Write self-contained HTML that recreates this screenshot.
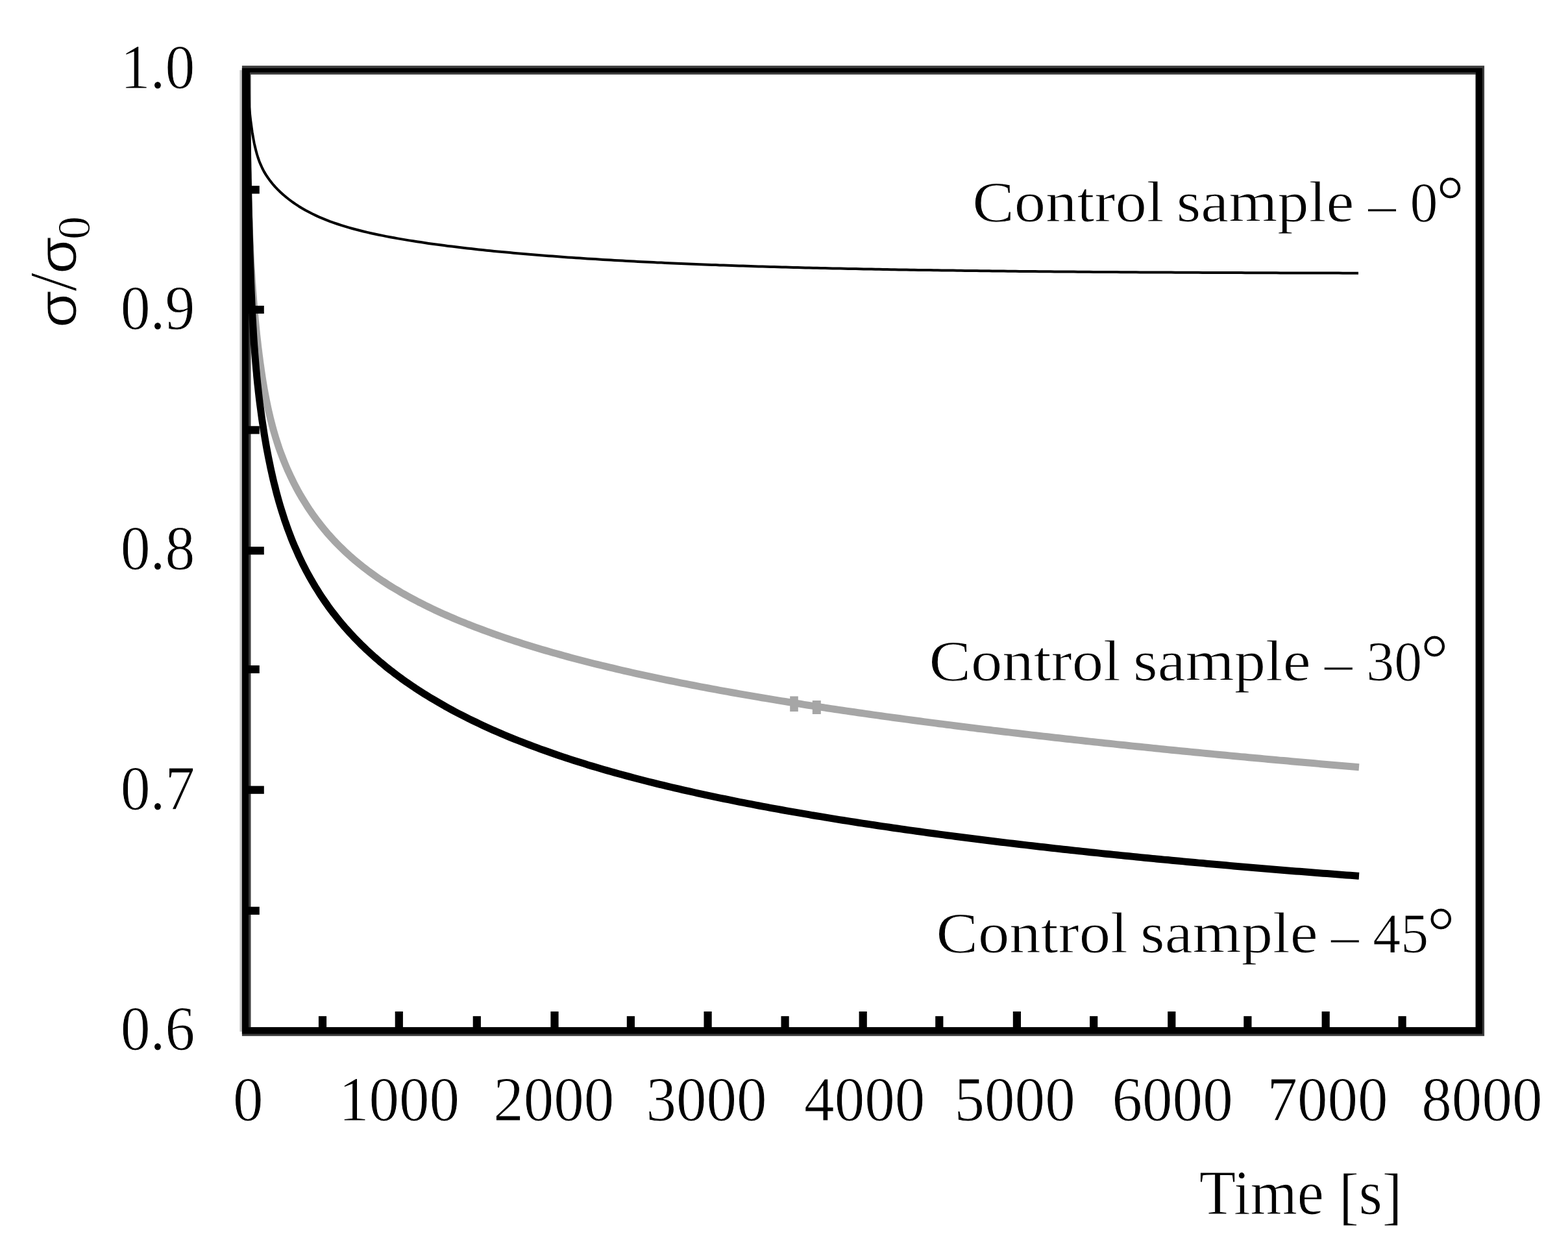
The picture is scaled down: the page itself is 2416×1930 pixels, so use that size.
<!DOCTYPE html>
<html lang="en"><head><meta charset="utf-8"><title>Stress relaxation of control samples</title>
<style>
html,body{margin:0;padding:0;background:#fff;}
body{width:2416px;height:1930px;overflow:hidden;}
svg{display:block;}
text{font-family:"Liberation Serif","DejaVu Serif",serif;fill:#000;white-space:pre;stroke:#fff;stroke-width:1px;}
.tk{font-size:97px;}
.sg{font-family:"Liberation Sans","DejaVu Sans",sans-serif;font-size:83px;}
</style></head><body>
<svg width="2416" height="1930" viewBox="0 0 2416 1930" role="img" aria-label="Stress relaxation curves of control samples">
<rect width="2416" height="1930" fill="#fff"/>
<rect x="369.4" y="108" width="8" height="1481" fill="#c4c4c4"/>
<rect x="379.7" y="108.0" width="1900.6" height="1481.0" fill="none" stroke="#3c3c3c" stroke-width="13.6"/>
<g fill="none" stroke-linejoin="round" stroke-linecap="butt">
<path d="M379.7 108.0 L379.8 123.8 L380.0 138.7 L380.1 152.7 L380.3 165.9 L380.4 178.3 L380.6 190.1 L380.7 201.2 L380.9 211.7 L381.0 221.6 L381.2 231.1 L381.3 240.0 L381.5 248.5 L381.6 256.6 L381.8 264.3 L381.9 271.6 L382.1 278.5 L382.2 285.2 L382.4 291.6 L382.6 297.9 L382.7 304.1 L382.9 310.4 L383.1 316.7 L383.2 322.9 L383.4 329.1 L383.6 335.3 L383.9 341.5 L384.1 347.7 L384.3 353.8 L384.6 360.0 L384.8 366.1 L385.1 372.2 L385.4 378.3 L385.7 384.4 L386.0 390.5 L386.3 396.6 L386.6 402.6 L387.0 408.7 L387.3 414.7 L387.7 420.7 L388.1 426.7 L388.5 432.7 L388.9 438.8 L389.3 444.8 L389.8 450.7 L390.3 456.7 L390.7 462.7 L391.2 468.7 L391.7 474.7 L392.2 480.7 L392.8 486.6 L393.3 492.6 L393.9 498.6 L394.5 504.5 L395.1 510.5 L395.7 516.4 L396.4 522.4 L397.1 528.3 L397.7 534.2 L398.5 540.2 L399.2 546.1 L400.0 552.0 L400.7 557.9 L401.6 563.8 L402.4 569.7 L403.3 575.6 L404.2 581.5 L405.1 587.3 L406.1 593.2 L407.1 599.1 L408.2 604.9 L409.3 610.7 L410.4 616.6 L411.6 622.4 L412.8 628.2 L414.1 634.0 L415.5 639.7 L416.8 645.5 L418.3 651.2 L419.8 657.0 L421.4 662.7 L423.0 668.3 L424.7 674.0 L426.5 679.7 L428.3 685.3 L430.2 690.9 L432.2 696.5 L434.3 702.0 L436.4 707.5 L438.6 713.0 L440.9 718.5 L443.2 723.9 L445.7 729.3 L448.2 734.7 L450.8 740.0 L453.4 745.3 L456.2 750.6 L459.0 755.8 L461.9 761.0 L464.9 766.1 L468.0 771.2 L471.1 776.2 L474.3 781.2 L477.6 786.2 L481.0 791.1 L484.4 795.9 L488.0 800.7 L491.6 805.4 L495.2 810.1 L499.0 814.7 L502.8 819.3 L506.7 823.8 L510.7 828.2 L514.7 832.6 L518.8 836.9 L523.0 841.1 L527.3 845.3 L531.6 849.4 L536.0 853.5 L540.4 857.5 L544.9 861.4 L549.5 865.2 L554.1 869.0 L558.7 872.7 L563.5 876.4 L568.2 880.0 L573.0 883.5 L577.9 887.0 L582.8 890.4 L587.8 893.8 L592.8 897.0 L597.8 900.3 L602.8 903.5 L608.0 906.6 L613.1 909.6 L618.3 912.7 L623.5 915.6 L628.7 918.5 L633.9 921.4 L639.2 924.2 L644.5 927.0 L649.9 929.7 L655.2 932.4 L660.6 935.0 L666.0 937.6 L671.4 940.2 L676.9 942.7 L682.3 945.2 L687.8 947.6 L693.3 950.0 L698.8 952.4 L704.3 954.7 L709.8 957.0 L715.4 959.2 L721.0 961.5 L726.5 963.6 L732.1 965.8 L737.7 967.9 L743.3 970.0 L749.0 972.1 L754.6 974.2 L760.3 976.2 L765.9 978.2 L771.6 980.1 L777.2 982.1 L782.9 984.0 L788.6 985.9 L794.3 987.8 L800.0 989.6 L805.7 991.4 L811.5 993.2 L817.2 995.0 L822.9 996.7 L828.7 998.5 L834.4 1000.2 L840.2 1001.9 L845.9 1003.5 L851.7 1005.2 L857.5 1006.8 L863.2 1008.4 L869.0 1010.0 L874.8 1011.6 L880.6 1013.2 L886.4 1014.7 L892.2 1016.2 L898.0 1017.7 L903.8 1019.2 L909.6 1020.7 L915.4 1022.2 L921.3 1023.6 L927.1 1025.0 L932.9 1026.4 L938.8 1027.8 L944.6 1029.2 L950.4 1030.6 L956.3 1032.0 L962.1 1033.3 L968.0 1034.6 L973.8 1036.0 L979.7 1037.3 L985.5 1038.6 L991.4 1039.9 L997.3 1041.1 L1003.1 1042.4 L1009.0 1043.6 L1014.9 1044.9 L1020.7 1046.1 L1026.6 1047.3 L1032.5 1048.5 L1038.4 1049.7 L1044.2 1050.9 L1050.1 1052.1 L1056.0 1053.2 L1061.9 1054.4 L1067.8 1055.5 L1073.7 1056.7 L1079.6 1057.8 L1085.5 1058.9 L1091.4 1060.0 L1097.3 1061.1 L1103.2 1062.2 L1109.1 1063.3 L1115.0 1064.4 L1120.9 1065.4 L1126.8 1066.5 L1132.7 1067.5 L1138.6 1068.6 L1144.5 1069.6 L1150.4 1070.7 L1156.3 1071.7 L1162.2 1072.7 L1168.1 1073.7 L1174.1 1074.7 L1180.0 1075.7 L1185.9 1076.7 L1191.8 1077.6 L1197.7 1078.6 L1203.6 1079.6 L1209.6 1080.5 L1215.5 1081.5 L1221.4 1082.4 L1227.3 1083.4 L1233.3 1084.3 L1239.2 1085.3 L1245.1 1086.2 L1251.1 1087.1 L1257.0 1088.0 L1262.9 1088.9 L1268.8 1089.8 L1274.8 1090.7 L1280.7 1091.6 L1286.6 1092.5 L1292.6 1093.4 L1298.5 1094.2 L1304.5 1095.1 L1310.4 1096.0 L1316.3 1096.8 L1322.3 1097.7 L1328.2 1098.5 L1334.1 1099.4 L1340.1 1100.2 L1346.0 1101.1 L1352.0 1101.9 L1357.9 1102.7 L1363.9 1103.6 L1369.8 1104.4 L1375.7 1105.2 L1381.7 1106.0 L1387.6 1106.8 L1393.6 1107.6 L1399.5 1108.4 L1405.5 1109.2 L1411.4 1110.0 L1417.4 1110.8 L1423.3 1111.6 L1429.3 1112.4 L1435.2 1113.1 L1441.2 1113.9 L1447.1 1114.7 L1453.1 1115.4 L1459.0 1116.2 L1465.0 1116.9 L1470.9 1117.7 L1476.9 1118.5 L1482.8 1119.2 L1488.8 1119.9 L1494.7 1120.7 L1500.7 1121.4 L1506.6 1122.2 L1512.6 1122.9 L1518.5 1123.6 L1524.5 1124.3 L1530.5 1125.1 L1536.4 1125.8 L1542.4 1126.5 L1548.3 1127.2 L1554.3 1127.9 L1560.2 1128.6 L1566.2 1129.3 L1572.2 1130.0 L1578.1 1130.7 L1584.1 1131.4 L1590.0 1132.1 L1596.0 1132.8 L1602.0 1133.5 L1607.9 1134.1 L1613.9 1134.8 L1619.9 1135.5 L1625.8 1136.2 L1631.8 1136.8 L1637.7 1137.5 L1643.7 1138.2 L1649.7 1138.8 L1655.6 1139.5 L1661.6 1140.1 L1667.6 1140.8 L1673.5 1141.5 L1679.5 1142.1 L1685.4 1142.7 L1691.4 1143.4 L1697.4 1144.0 L1703.3 1144.7 L1709.3 1145.3 L1715.3 1145.9 L1721.2 1146.6 L1727.2 1147.2 L1733.2 1147.8 L1739.1 1148.5 L1745.1 1149.1 L1751.1 1149.7 L1757.0 1150.3 L1763.0 1150.9 L1769.0 1151.5 L1775.0 1152.1 L1780.9 1152.8 L1786.9 1153.4 L1792.9 1154.0 L1798.8 1154.6 L1804.8 1155.2 L1810.8 1155.8 L1816.7 1156.4 L1822.7 1156.9 L1828.7 1157.5 L1834.7 1158.1 L1840.6 1158.7 L1846.6 1159.3 L1852.6 1159.9 L1858.5 1160.5 L1864.5 1161.0 L1870.5 1161.6 L1876.5 1162.2 L1882.4 1162.7 L1888.4 1163.3 L1894.4 1163.9 L1900.4 1164.4 L1906.3 1165.0 L1912.3 1165.6 L1918.3 1166.1 L1924.2 1166.7 L1930.2 1167.2 L1936.2 1167.8 L1942.2 1168.3 L1948.1 1168.9 L1954.1 1169.4 L1960.1 1170.0 L1966.1 1170.5 L1972.0 1171.1 L1978.0 1171.6 L1984.0 1172.1 L1990.0 1172.7 L1995.9 1173.2 L2001.9 1173.7 L2007.9 1174.3 L2013.9 1174.8 L2019.9 1175.3 L2025.8 1175.8 L2031.8 1176.4 L2037.8 1176.9 L2043.8 1177.4 L2049.7 1177.9 L2055.7 1178.4 L2061.7 1178.9 L2067.7 1179.5 L2073.7 1180.0 L2079.6 1180.5 L2085.6 1181.0 L2091.6 1181.5 L2094.0 1181.7" stroke="#a6a6a6" stroke-width="11"/>
<path d="M379.7 108.0 L379.8 120.2 L380.0 132.0 L380.1 143.5 L380.3 154.6 L380.4 165.5 L380.6 176.1 L380.7 186.3 L380.9 196.3 L381.0 206.0 L381.2 215.4 L381.3 224.6 L381.5 233.6 L381.6 242.2 L381.8 250.7 L381.9 259.0 L382.1 267.0 L382.2 274.8 L382.4 282.4 L382.5 289.8 L382.7 297.0 L382.8 304.1 L383.0 310.9 L383.1 317.6 L383.3 324.1 L383.4 330.5 L383.6 336.7 L383.8 342.8 L383.9 349.0 L384.1 355.2 L384.2 361.3 L384.4 367.5 L384.6 373.6 L384.8 379.8 L384.9 385.9 L385.1 392.1 L385.3 398.2 L385.5 404.3 L385.7 410.4 L386.0 416.6 L386.2 422.7 L386.4 428.8 L386.6 434.9 L386.9 441.0 L387.1 447.1 L387.4 453.2 L387.7 459.3 L387.9 465.4 L388.2 471.4 L388.5 477.5 L388.8 483.6 L389.1 489.6 L389.5 495.7 L389.8 501.7 L390.2 507.7 L390.5 513.8 L390.9 519.8 L391.3 525.8 L391.7 531.8 L392.2 537.8 L392.6 543.8 L393.1 549.8 L393.6 555.8 L394.1 561.8 L394.6 567.7 L395.2 573.7 L395.7 579.7 L396.3 585.6 L396.9 591.6 L397.6 597.5 L398.2 603.4 L398.9 609.4 L399.6 615.3 L400.3 621.2 L401.1 627.1 L401.9 633.1 L402.7 639.0 L403.5 644.9 L404.4 650.8 L405.3 656.7 L406.2 662.5 L407.1 668.4 L408.1 674.3 L409.1 680.2 L410.1 686.0 L411.2 691.9 L412.3 697.7 L413.4 703.6 L414.6 709.4 L415.8 715.2 L417.0 721.1 L418.3 726.9 L419.6 732.7 L420.9 738.5 L422.3 744.2 L423.8 750.0 L425.2 755.8 L426.7 761.5 L428.3 767.2 L429.9 773.0 L431.6 778.7 L433.3 784.3 L435.1 790.0 L436.9 795.7 L438.7 801.3 L440.7 806.9 L442.6 812.5 L444.7 818.1 L446.8 823.6 L448.9 829.2 L451.1 834.7 L453.4 840.2 L455.8 845.6 L458.2 851.0 L460.6 856.4 L463.1 861.8 L465.7 867.2 L468.4 872.5 L471.1 877.8 L473.9 883.0 L476.8 888.2 L479.7 893.4 L482.7 898.5 L485.7 903.6 L488.9 908.7 L492.0 913.7 L495.3 918.7 L498.6 923.6 L502.0 928.5 L505.4 933.4 L508.9 938.2 L512.5 943.0 L516.2 947.7 L519.9 952.4 L523.6 957.0 L527.4 961.5 L531.3 966.1 L535.3 970.5 L539.3 975.0 L543.3 979.3 L547.4 983.7 L551.6 987.9 L555.8 992.2 L560.1 996.3 L564.4 1000.5 L568.8 1004.5 L573.2 1008.5 L577.6 1012.5 L582.2 1016.4 L586.7 1020.3 L591.3 1024.1 L595.9 1027.9 L600.6 1031.6 L605.4 1035.2 L610.1 1038.9 L614.9 1042.4 L619.7 1046.0 L624.6 1049.4 L629.5 1052.8 L634.5 1056.2 L639.4 1059.6 L644.4 1062.8 L649.5 1066.1 L654.5 1069.3 L659.6 1072.4 L664.7 1075.6 L669.9 1078.6 L675.0 1081.6 L680.2 1084.6 L685.4 1087.6 L690.7 1090.5 L695.9 1093.3 L701.2 1096.2 L706.5 1099.0 L711.8 1101.7 L717.2 1104.4 L722.5 1107.1 L727.9 1109.7 L733.3 1112.3 L738.7 1114.9 L744.1 1117.4 L749.6 1119.9 L755.1 1122.4 L760.5 1124.9 L766.0 1127.3 L771.5 1129.6 L777.0 1132.0 L782.6 1134.3 L788.1 1136.6 L793.7 1138.8 L799.2 1141.0 L804.8 1143.2 L810.4 1145.4 L816.0 1147.5 L821.6 1149.6 L827.2 1151.7 L832.9 1153.8 L838.5 1155.8 L844.2 1157.8 L849.8 1159.8 L855.5 1161.8 L861.2 1163.7 L866.8 1165.6 L872.5 1167.5 L878.2 1169.4 L883.9 1171.2 L889.6 1173.0 L895.4 1174.8 L901.1 1176.6 L906.8 1178.4 L912.6 1180.1 L918.3 1181.8 L924.1 1183.5 L929.8 1185.2 L935.6 1186.9 L941.4 1188.5 L947.1 1190.1 L952.9 1191.7 L958.7 1193.3 L964.5 1194.9 L970.3 1196.4 L976.1 1198.0 L981.9 1199.5 L987.7 1201.0 L993.5 1202.5 L999.3 1204.0 L1005.1 1205.4 L1010.9 1206.9 L1016.8 1208.3 L1022.6 1209.7 L1028.4 1211.1 L1034.3 1212.5 L1040.1 1213.9 L1046.0 1215.2 L1051.8 1216.6 L1057.6 1217.9 L1063.5 1219.2 L1069.4 1220.5 L1075.2 1221.8 L1081.1 1223.1 L1086.9 1224.4 L1092.8 1225.6 L1098.7 1226.9 L1104.5 1228.1 L1110.4 1229.3 L1116.3 1230.5 L1122.2 1231.7 L1128.0 1232.9 L1133.9 1234.1 L1139.8 1235.3 L1145.7 1236.4 L1151.6 1237.6 L1157.5 1238.7 L1163.4 1239.9 L1169.3 1241.0 L1175.2 1242.1 L1181.1 1243.2 L1187.0 1244.3 L1192.9 1245.4 L1198.8 1246.4 L1204.7 1247.5 L1210.6 1248.6 L1216.5 1249.6 L1222.4 1250.7 L1228.3 1251.7 L1234.2 1252.7 L1240.1 1253.7 L1246.0 1254.7 L1251.9 1255.8 L1257.9 1256.7 L1263.8 1257.7 L1269.7 1258.7 L1275.6 1259.7 L1281.5 1260.6 L1287.5 1261.6 L1293.4 1262.6 L1299.3 1263.5 L1305.2 1264.4 L1311.2 1265.4 L1317.1 1266.3 L1323.0 1267.2 L1328.9 1268.1 L1334.9 1269.0 L1340.8 1269.9 L1346.7 1270.8 L1352.7 1271.7 L1358.6 1272.6 L1364.5 1273.4 L1370.5 1274.3 L1376.4 1275.2 L1382.4 1276.0 L1388.3 1276.9 L1394.2 1277.7 L1400.2 1278.6 L1406.1 1279.4 L1412.1 1280.2 L1418.0 1281.0 L1423.9 1281.9 L1429.9 1282.7 L1435.8 1283.5 L1441.8 1284.3 L1447.7 1285.1 L1453.7 1285.9 L1459.6 1286.7 L1465.6 1287.4 L1471.5 1288.2 L1477.5 1289.0 L1483.4 1289.8 L1489.4 1290.5 L1495.3 1291.3 L1501.3 1292.0 L1507.2 1292.8 L1513.2 1293.5 L1519.1 1294.3 L1525.1 1295.0 L1531.1 1295.7 L1537.0 1296.5 L1543.0 1297.2 L1548.9 1297.9 L1554.9 1298.6 L1560.8 1299.3 L1566.8 1300.0 L1572.8 1300.7 L1578.7 1301.4 L1584.7 1302.1 L1590.6 1302.8 L1596.6 1303.5 L1602.6 1304.2 L1608.5 1304.8 L1614.5 1305.5 L1620.4 1306.2 L1626.4 1306.9 L1632.4 1307.5 L1638.3 1308.2 L1644.3 1308.8 L1650.3 1309.5 L1656.2 1310.1 L1662.2 1310.8 L1668.2 1311.4 L1674.1 1312.0 L1680.1 1312.7 L1686.0 1313.3 L1692.0 1313.9 L1698.0 1314.6 L1704.0 1315.2 L1709.9 1315.8 L1715.9 1316.4 L1721.9 1317.0 L1727.8 1317.6 L1733.8 1318.2 L1739.8 1318.8 L1745.7 1319.4 L1751.7 1320.0 L1757.7 1320.6 L1763.6 1321.2 L1769.6 1321.8 L1775.6 1322.4 L1781.6 1322.9 L1787.5 1323.5 L1793.5 1324.1 L1799.5 1324.6 L1805.5 1325.2 L1811.4 1325.8 L1817.4 1326.3 L1823.4 1326.9 L1829.3 1327.4 L1835.3 1328.0 L1841.3 1328.5 L1847.3 1329.1 L1853.2 1329.6 L1859.2 1330.2 L1865.2 1330.7 L1871.2 1331.2 L1877.2 1331.8 L1883.1 1332.3 L1889.1 1332.8 L1895.1 1333.4 L1901.1 1333.9 L1907.0 1334.4 L1913.0 1334.9 L1919.0 1335.4 L1925.0 1335.9 L1930.9 1336.4 L1936.9 1336.9 L1942.9 1337.4 L1948.9 1337.9 L1954.9 1338.4 L1960.8 1338.9 L1966.8 1339.4 L1972.8 1339.9 L1978.8 1340.4 L1984.8 1340.9 L1990.7 1341.4 L1996.7 1341.9 L2002.7 1342.3 L2008.7 1342.8 L2014.7 1343.3 L2020.7 1343.8 L2026.6 1344.2 L2032.6 1344.7 L2038.6 1345.2 L2044.6 1345.6 L2050.6 1346.1 L2056.5 1346.5 L2062.5 1347.0 L2068.5 1347.4 L2074.5 1347.9 L2080.5 1348.3 L2086.5 1348.8 L2092.4 1349.2 L2094.0 1349.3" stroke="#000" stroke-width="11"/>
<path d="M379.7 108.0 L380.1 114.0 L380.4 120.1 L380.8 126.1 L381.3 132.1 L381.7 138.1 L382.2 144.1 L382.6 150.1 L383.2 156.1 L383.7 162.0 L384.3 168.0 L384.9 173.9 L385.5 179.8 L386.2 185.7 L387.0 191.6 L387.8 197.5 L388.6 203.3 L389.6 209.1 L390.6 214.9 L391.7 220.6 L393.0 226.3 L394.4 231.9 L395.9 237.5 L397.6 243.0 L399.5 248.4 L401.7 253.7 L404.1 259.0 L406.7 264.1 L409.7 269.1 L412.9 273.9 L416.3 278.6 L420.0 283.2 L423.8 287.6 L427.9 291.9 L432.1 296.0 L436.5 300.0 L441.0 303.8 L445.7 307.5 L450.4 311.0 L455.3 314.4 L460.3 317.7 L465.3 320.8 L470.5 323.8 L475.8 326.6 L481.1 329.3 L486.5 331.9 L491.9 334.4 L497.4 336.7 L502.9 338.9 L508.5 341.1 L514.2 343.1 L519.8 345.0 L525.5 346.9 L531.2 348.7 L537.0 350.4 L542.7 352.0 L548.5 353.5 L554.3 355.0 L560.1 356.5 L566.0 357.9 L571.8 359.2 L577.7 360.5 L583.5 361.7 L589.4 362.9 L595.3 364.1 L601.2 365.2 L607.1 366.3 L613.0 367.4 L618.9 368.4 L624.8 369.4 L630.7 370.4 L636.7 371.3 L642.6 372.2 L648.5 373.1 L654.5 374.0 L660.4 374.9 L666.3 375.7 L672.3 376.5 L678.2 377.3 L684.2 378.1 L690.1 378.9 L696.1 379.6 L702.0 380.3 L708.0 381.0 L713.9 381.7 L719.9 382.4 L725.9 383.1 L731.8 383.8 L737.8 384.4 L743.8 385.0 L749.7 385.7 L755.7 386.3 L761.7 386.9 L767.6 387.4 L773.6 388.0 L779.6 388.6 L785.5 389.1 L791.5 389.7 L797.5 390.2 L803.5 390.7 L809.5 391.3 L815.4 391.8 L821.4 392.3 L827.4 392.8 L833.4 393.2 L839.3 393.7 L845.3 394.2 L851.3 394.6 L857.3 395.1 L863.3 395.5 L869.3 395.9 L875.2 396.4 L881.2 396.8 L887.2 397.2 L893.2 397.6 L899.2 398.0 L905.2 398.4 L911.2 398.8 L917.2 399.1 L923.1 399.5 L929.1 399.9 L935.1 400.2 L941.1 400.6 L947.1 400.9 L953.1 401.3 L959.1 401.6 L965.1 401.9 L971.1 402.2 L977.1 402.6 L983.0 402.9 L989.0 403.2 L995.0 403.5 L1001.0 403.8 L1007.0 404.1 L1013.0 404.4 L1019.0 404.6 L1025.0 404.9 L1031.0 405.2 L1037.0 405.5 L1043.0 405.7 L1049.0 406.0 L1055.0 406.2 L1061.0 406.5 L1067.0 406.7 L1073.0 407.0 L1078.9 407.2 L1084.9 407.5 L1090.9 407.7 L1096.9 407.9 L1102.9 408.1 L1108.9 408.4 L1114.9 408.6 L1120.9 408.8 L1126.9 409.0 L1132.9 409.2 L1138.9 409.4 L1144.9 409.6 L1150.9 409.8 L1156.9 410.0 L1162.9 410.2 L1168.9 410.4 L1174.9 410.5 L1180.9 410.7 L1186.9 410.9 L1192.9 411.1 L1198.9 411.2 L1204.9 411.4 L1210.9 411.6 L1216.9 411.7 L1222.9 411.9 L1228.9 412.1 L1234.9 412.2 L1240.9 412.4 L1246.9 412.5 L1252.9 412.7 L1258.9 412.8 L1264.9 413.0 L1270.9 413.1 L1276.9 413.2 L1282.9 413.4 L1288.8 413.5 L1294.8 413.6 L1300.8 413.8 L1306.8 413.9 L1312.8 414.0 L1318.8 414.1 L1324.8 414.3 L1330.8 414.4 L1336.8 414.5 L1342.8 414.6 L1348.8 414.7 L1354.8 414.8 L1360.8 414.9 L1366.8 415.1 L1372.8 415.2 L1378.8 415.3 L1384.8 415.4 L1390.8 415.5 L1396.8 415.6 L1402.8 415.7 L1408.8 415.8 L1414.8 415.9 L1420.8 416.0 L1426.8 416.0 L1432.8 416.1 L1438.8 416.2 L1444.8 416.3 L1450.8 416.4 L1456.8 416.5 L1462.8 416.6 L1468.8 416.6 L1474.8 416.7 L1480.8 416.8 L1486.8 416.9 L1492.8 417.0 L1498.8 417.0 L1504.8 417.1 L1510.8 417.2 L1516.8 417.3 L1522.8 417.3 L1528.8 417.4 L1534.8 417.5 L1540.8 417.5 L1546.8 417.6 L1552.8 417.7 L1558.8 417.7 L1564.8 417.8 L1570.8 417.9 L1576.8 417.9 L1582.8 418.0 L1588.8 418.0 L1594.8 418.1 L1600.8 418.2 L1606.8 418.2 L1612.8 418.3 L1618.8 418.3 L1624.8 418.4 L1630.8 418.4 L1636.8 418.5 L1642.8 418.5 L1648.8 418.6 L1654.8 418.6 L1660.8 418.7 L1666.8 418.7 L1672.8 418.8 L1678.8 418.8 L1684.8 418.9 L1690.8 418.9 L1696.8 419.0 L1702.8 419.0 L1708.8 419.0 L1714.8 419.1 L1720.8 419.1 L1726.8 419.2 L1732.8 419.2 L1738.8 419.2 L1744.8 419.3 L1750.8 419.3 L1756.8 419.4 L1762.8 419.4 L1768.8 419.4 L1774.8 419.5 L1780.8 419.5 L1786.8 419.5 L1792.8 419.6 L1798.8 419.6 L1804.8 419.6 L1810.8 419.7 L1816.8 419.7 L1822.8 419.7 L1828.8 419.8 L1834.8 419.8 L1840.8 419.8 L1846.8 419.8 L1852.8 419.9 L1858.8 419.9 L1864.8 419.9 L1870.8 420.0 L1876.8 420.0 L1882.8 420.0 L1888.8 420.0 L1894.8 420.1 L1900.8 420.1 L1906.8 420.1 L1912.8 420.1 L1918.8 420.2 L1924.8 420.2 L1930.8 420.2 L1936.8 420.2 L1942.8 420.3 L1948.8 420.3 L1954.8 420.3 L1960.8 420.3 L1966.8 420.3 L1972.8 420.4 L1978.8 420.4 L1984.8 420.4 L1990.8 420.4 L1996.8 420.5 L2002.8 420.5 L2008.8 420.5 L2014.8 420.5 L2020.8 420.5 L2026.8 420.5 L2032.8 420.6 L2038.8 420.6 L2044.8 420.6 L2050.8 420.6 L2056.8 420.6 L2062.8 420.6 L2068.8 420.7 L2074.8 420.7 L2080.8 420.7 L2086.8 420.7 L2092.8 420.7 L2093.0 420.7" stroke="#000" stroke-width="4"/>
</g>
<rect x="1217.2" y="1072.5" width="12.6" height="23.5" fill="#a6a6a6"/>
<rect x="1251.8" y="1079" width="13" height="21" fill="#a6a6a6"/>
<g stroke="#000" stroke-width="12.2">
<line x1="497.0" y1="1565.2" x2="497.0" y2="1589.0"/>
<line x1="614.8" y1="1558.0" x2="614.8" y2="1589.0"/>
<line x1="734.8" y1="1565.2" x2="734.8" y2="1589.0"/>
<line x1="854.5" y1="1558.0" x2="854.5" y2="1589.0"/>
<line x1="971.9" y1="1565.2" x2="971.9" y2="1589.0"/>
<line x1="1090.6" y1="1558.0" x2="1090.6" y2="1589.0"/>
<line x1="1209.6" y1="1565.2" x2="1209.6" y2="1589.0"/>
<line x1="1329.7" y1="1558.0" x2="1329.7" y2="1589.0"/>
<line x1="1447.3" y1="1565.2" x2="1447.3" y2="1589.0"/>
<line x1="1566.9" y1="1558.0" x2="1566.9" y2="1589.0"/>
<line x1="1685.2" y1="1565.2" x2="1685.2" y2="1589.0"/>
<line x1="1805.3" y1="1558.0" x2="1805.3" y2="1589.0"/>
<line x1="1922.4" y1="1565.2" x2="1922.4" y2="1589.0"/>
<line x1="2042.7" y1="1558.0" x2="2042.7" y2="1589.0"/>
<line x1="2160.6" y1="1565.2" x2="2160.6" y2="1589.0"/>
<line x1="379.7" y1="292.3" x2="399.8" y2="292.3"/>
<line x1="379.7" y1="477.0" x2="406.8" y2="477.0"/>
<line x1="379.7" y1="662.4" x2="399.8" y2="662.4"/>
<line x1="379.7" y1="848.2" x2="406.8" y2="848.2"/>
<line x1="379.7" y1="1031.0" x2="399.8" y2="1031.0"/>
<line x1="379.7" y1="1216.7" x2="406.8" y2="1216.7"/>
<line x1="379.7" y1="1402.8" x2="399.8" y2="1402.8"/>
</g>
<path d="M373 108.2H2284" fill="none" stroke="#000" stroke-width="6.4"/>
<path d="M378 105V1592.4M2279 105V1592.4M373 1587.3H2284" fill="none" stroke="#000" stroke-width="10.2"/>
<text class="tk" transform="translate(185.7,136.3) scale(0.945,1)">1.0</text>
<text class="tk" transform="translate(185.7,506.5) scale(0.945,1)">0.9</text>
<text class="tk" transform="translate(185.7,876.6) scale(0.945,1)">0.8</text>
<text class="tk" transform="translate(185.7,1246.6) scale(0.945,1)">0.7</text>
<text class="tk" transform="translate(185.7,1617.3) scale(0.945,1)">0.6</text>
<text class="tk" text-anchor="middle" transform="translate(382.4,1725.8) scale(0.960,1)">0</text>
<text class="tk" text-anchor="middle" transform="translate(615.0,1725.8) scale(0.960,1)">1000</text>
<text class="tk" text-anchor="middle" transform="translate(853.3,1725.8) scale(0.960,1)">2000</text>
<text class="tk" text-anchor="middle" transform="translate(1088.5,1725.8) scale(0.960,1)">3000</text>
<text class="tk" text-anchor="middle" transform="translate(1332.2,1725.8) scale(0.960,1)">4000</text>
<text class="tk" text-anchor="middle" transform="translate(1563.6,1725.8) scale(0.960,1)">5000</text>
<text class="tk" text-anchor="middle" transform="translate(1806.6,1725.8) scale(0.960,1)">6000</text>
<text class="tk" text-anchor="middle" transform="translate(2045.5,1725.8) scale(0.960,1)">7000</text>
<text class="tk" text-anchor="middle" transform="translate(2283.4,1725.8) scale(0.960,1)">8000</text>
<text class="tk" transform="translate(1847.8,1870) scale(0.954,1)">Time <tspan dy="4.6">[</tspan><tspan dy="-4.6">s</tspan><tspan dy="4.6">]</tspan></text>
<text transform="translate(117,500.7) rotate(-90)"><tspan class="sg" x="-4.4" textLength="57.6" lengthAdjust="spacingAndGlyphs">σ</tspan><tspan x="52.0" font-size="103">/</tspan><tspan class="sg" x="78.8" textLength="57.6" lengthAdjust="spacingAndGlyphs">σ</tspan><tspan x="131.6" dy="21" font-size="72">0</tspan></text>
<text x="1498.3" y="341.3" font-size="88"><tspan textLength="295.3" lengthAdjust="spacingAndGlyphs">Control</tspan><tspan dx="-5" textLength="297.8" lengthAdjust="spacingAndGlyphs"> sample</tspan><tspan font-size="86" dx="0.0" dy="2.6"> –</tspan><tspan font-size="86" dy="-2.6"> 0</tspan><tspan font-size="108" dx="-2.4" dy="3.4">°</tspan></text>
<text x="1431.6" y="1047.6" font-size="88"><tspan textLength="295.3" lengthAdjust="spacingAndGlyphs">Control</tspan><tspan dx="-5" textLength="297.8" lengthAdjust="spacingAndGlyphs"> sample</tspan><tspan font-size="86" dx="-0.5" dy="2.6"> –</tspan><tspan font-size="86" dy="-2.6"> 30</tspan><tspan font-size="108" dx="-2.4" dy="3.4">°</tspan></text>
<text x="1442.6" y="1467.2" font-size="88"><tspan textLength="295.3" lengthAdjust="spacingAndGlyphs">Control</tspan><tspan dx="-5" textLength="297.8" lengthAdjust="spacingAndGlyphs"> sample</tspan><tspan font-size="86" dx="-1.5" dy="2.6"> –</tspan><tspan font-size="86" dy="-2.6"> 45</tspan><tspan font-size="108" dx="-2.4" dy="3.4">°</tspan></text>
</svg>
</body></html>
